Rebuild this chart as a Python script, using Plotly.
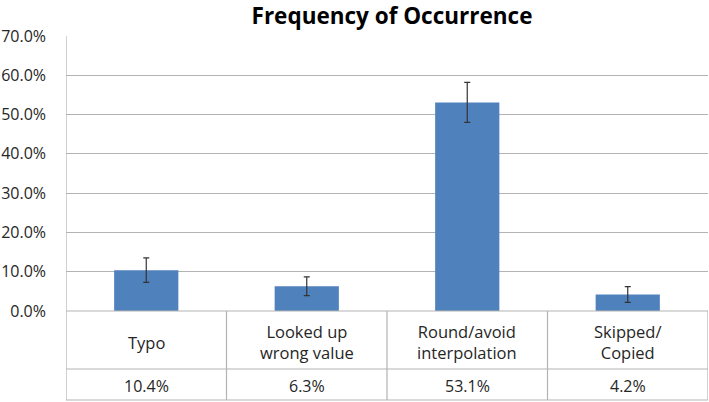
import plotly.graph_objects as go

categories = ["Typo", "Looked up<br>wrong value", "Round/avoid<br>interpolation", "Skipped/<br>Copied"]
values = [10.4, 6.3, 53.1, 4.2]
errors = [3.1, 2.4, 5.1, 2.0]
title = "Frequency of Occurrence"

W, H = 709, 402
L, R, T, B = 66, 1, 36, 91
plot_h = H - T - B
def py(pix):
    return -(pix - (H - B)) / plot_h
row1 = py(369)
row2 = py(400)

FONT = "Open Sans"
TXT = "#262626"
GRID = "#b3b3b3"

xs = list(range(len(categories)))
fig = go.Figure()
fig.add_trace(go.Bar(
    x=xs, y=values, width=0.4,
    marker=dict(color="#4f81bd", line=dict(width=0)),
    error_y=dict(type="data", array=errors, visible=True, color="#333333", thickness=1.2, width=3),
    hoverinfo="skip",
))

shapes = []
n = len(categories)
for yy in [0, row1, row2]:
    shapes.append(dict(type="line", xref="x", yref="paper", x0=-0.5, x1=n - 0.5, y0=yy, y1=yy,
                       line=dict(color=GRID, width=1.2)))
for i in range(n + 1):
    top = 1 if i == 0 else 0
    shapes.append(dict(type="line", xref="x", yref="paper", x0=i - 0.5, x1=i - 0.5, y0=top, y1=row2,
                       line=dict(color=GRID, width=1.2)))

annotations = []
for i, (c, v) in enumerate(zip(categories, values)):
    annotations.append(dict(x=i, y=py(342), xref="x", yref="paper", text=c, showarrow=False,
                            font=dict(family=FONT, size=16.5, color=TXT), yanchor="middle"))
    annotations.append(dict(x=i, y=py(386), xref="x", yref="paper", text=f"{v:.1f}%",
                            showarrow=False, font=dict(family=FONT, size=16, color=TXT), yanchor="middle"))

fig.update_layout(
    width=W, height=H,
    margin=dict(l=L, r=R, t=T, b=B, autoexpand=False),
    plot_bgcolor="white", paper_bgcolor="white",
    showlegend=False,
    title=dict(text="<b>" + title + "</b>", x=392 / W, xanchor="center",
               y=1 - 16 / H, yanchor="middle", font=dict(family=FONT, size=22.5, color="#000000")),
    xaxis=dict(range=[-0.5, n - 0.5], showticklabels=False, showgrid=False, zeroline=False,
               showline=False, ticks="", automargin=False),
    yaxis=dict(range=[0, 70], dtick=10, tickformat=".1f", ticksuffix="%", showgrid=True,
               gridcolor=GRID, gridwidth=1.2, zeroline=False, showline=False, ticks="",
               automargin=False, ticklabelstandoff=19, tickfont=dict(family=FONT, size=16, color=TXT)),
    shapes=shapes, annotations=annotations,
)
fig.write_html("out.html", config={"displayModeBar": False},
               post_script="document.body.style.margin='0';")
